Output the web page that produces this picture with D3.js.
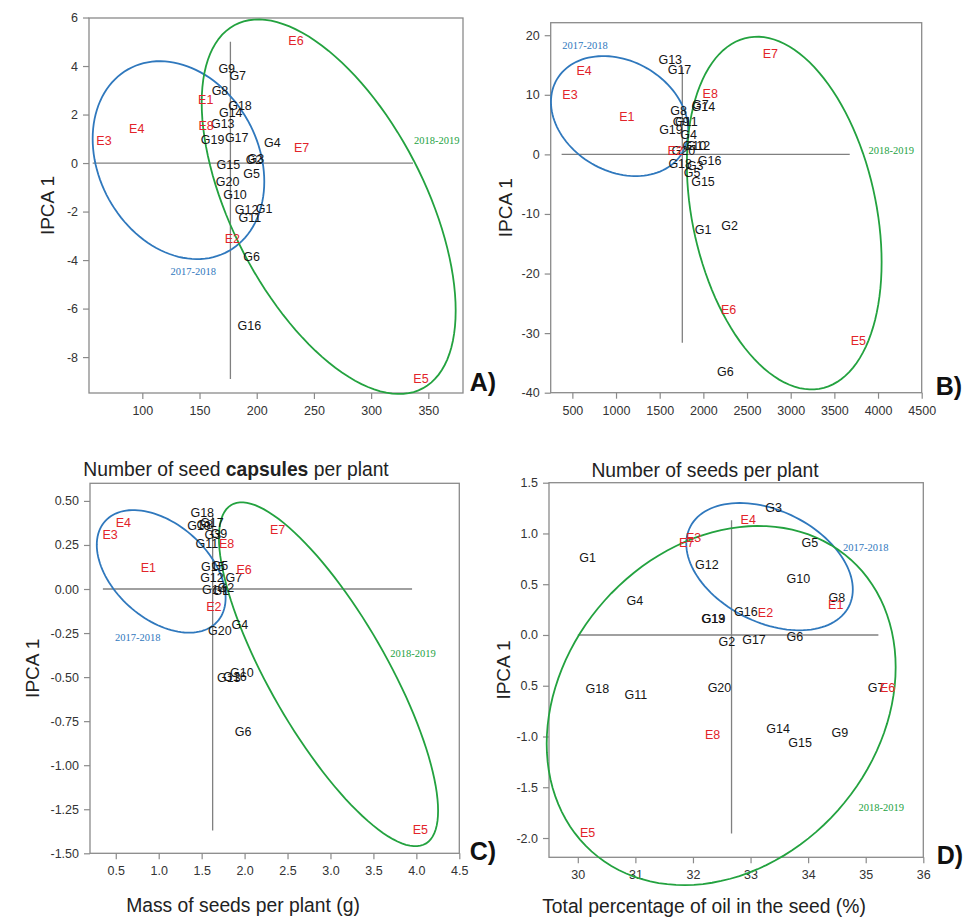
<!DOCTYPE html>
<html lang="en">
<head>
<meta charset="utf-8">
<title>AMMI IPCA1 biplots</title>
<script src="https://cdn.jsdelivr.net/npm/d3@7"></script>
<style>
  body { margin: 0; background: #fff; font-family: "Liberation Sans", Arial, sans-serif; }
  .tick text { font-family: "Liberation Sans", Arial, sans-serif; fill: #333; }
  .season { font-family: "Liberation Serif", "Times New Roman", serif; }
</style>
</head>
<body>
<script>
// ---- Panel A: number of seed capsules per plant ----
var pointsA = [
  ["E6",234.3,5.07],["G9",173.8,3.9],["G7",183.4,3.63],["G8",167.9,2.98],["E1",155.4,2.64],
  ["G18",185.4,2.38],["G14",177.3,2.07],["G13",170.3,1.64],["E8",155.7,1.54],["E4",95.1,1.41],
  ["E3",66.5,0.94],["G19",161.5,0.98],["G17",182.5,1.07],["G4",213.6,0.84],["E7",239.3,0.63],
  ["G2",197.6,0.15],["G3",199.2,0.17],["G15",175.2,-0.05],["G5",195.6,-0.43],["G20",174.6,-0.77],
  ["G10",181,-1.29],["G12",191.2,-1.91],["G1",206.4,-1.87],["G11",194.1,-2.24],["E2",178.7,-3.1],
  ["G6",195.6,-3.86],["G16",193.5,-6.68],["E5",343.6,-8.88]
];
var xTicksA = [100,150,200,250,300,350];
var yTicksA = [-8,-6,-4,-2,0,2,4,6];
var yLabelsA = ["-8","-6","-4","-2","0","2","4","6"];
// ellipse: cx, cy, half-width, half-height, phase (deg) ; blue = 2017-2018, green = 2018-2019
var ellipsesA = [[131.6,0.12,75,4.08,102.5],[262.9,-1.8,111,7.72,123.7]];
var seasonsA = [["2017-2018",144.6,-4.45],["2018-2019",357.3,0.92]];
var refA = [56.6,336.6,177,5.0,-8.9];

// ---- Panel B: number of seeds per plant ----
var pointsB = [
  ["E4",634,14.1],["E3",473,10.1],["E1",1124,6.3],["G13",1621,15.9],["G17",1727,14.3],
  ["E8",2079,10.3],["E7",2768,16.9],["G8",1716,7.43],["G7",1965,8.44],["G14",1999,8.1],
  ["G9",1746,5.6],["G11",1804,5.47],["G19",1629,4.19],["G4",1830,3.4],["G10",1896,1.56],
  ["G12",1942,1.56],["G20",1770,0.72],["E2",1678,0.72],["G16",2071,-0.96],["G18",1735,-1.5],
  ["G3",1907,-1.9],["G5",1870,-3.1],["G15",1996,-4.48],["G1",1996,-12.6],["G2",2301,-12.0],
  ["E6",2289,-26.1],["E5",3774,-31.3],["G6",2252,-36.4]
];
var xTicksB = [500,1000,1500,2000,2500,3000,3500,4000,4500];
var yTicksB = [-40,-30,-20,-10,0,10,20];
var yLabelsB = ["-40","-30","-20","-10","0","10","20"];
var ellipsesB = [[1041,6.43,786,10.07,103.7],[2926,-9.85,1115,29.6,106.2]];
var seasonsB = [["2017-2018",646,18.3],["2018-2019",4152,0.6]];
var refB = [377,3676,1759,14.7,-31.6];

// ---- Panel C: mass of seeds per plant ----
var pointsC = [
  ["G18",1.507,0.434],["E4",0.588,0.379],["E3",0.434,0.307],["G19",1.469,0.358],["G8",1.538,0.364],
  ["G17",1.62,0.375],["G3",1.631,0.307],["G9",1.701,0.313],["G11",1.562,0.256],["E8",1.79,0.26],
  ["E7",2.384,0.335],["E1",0.879,0.121],["G15",1.631,0.125],["G5",1.713,0.131],["G12",1.62,0.068],
  ["G7",1.876,0.068],["G2",1.783,0.011],["G14",1.643,0.0],["G1",1.724,-0.006],["E6",1.995,0.112],
  ["E2",1.643,-0.1],["G20",1.713,-0.233],["G4",1.945,-0.2],["G13",1.817,-0.5],["G16",1.887,-0.494],
  ["G10",1.969,-0.472],["G6",1.984,-0.81],["E5",4.047,-1.365]
];
var xTicksC = [0.5,1.0,1.5,2.0,2.5,3.0,3.5,4.0,4.5];
var yTicksC = [-1.5,-1.25,-1.0,-0.75,-0.5,-0.25,0,0.25,0.5];
var yLabelsC = ["-1.50","-1.25","-1.00","-0.75","-0.50","-0.25","0.00","0.25","0.50"];
var ellipsesC = [[1.029,0.1,0.75,0.348,115.6],[2.977,-0.484,1.276,0.976,142.5]];
var seasonsC = [["2017-2018",0.756,-0.274],["2018-2019",3.96,-0.365]];
var refC = [0.35,3.95,1.628,0.42,-1.37];

// ---- Panel D: total oil percentage ----
var pointsD = [
  ["G3",33.4,1.26],["E4",32.96,1.136],["E3",32.01,0.959],["E7",31.89,0.909],["G5",34.03,0.915],
  ["G1",30.17,0.762],["G12",32.24,0.693],["G10",33.83,0.561],["G4",30.99,0.335],["G8",34.5,0.368],
  ["E1",34.48,0.299],["G13",32.35,0.161],["G19",32.36,0.158],["G16",32.92,0.233],["E2",33.26,0.22],
  ["G6",33.77,-0.013],["G2",32.59,-0.062],["G17",33.06,-0.045],["G18",30.34,-0.528],["G11",31.01,-0.584],
  ["G20",32.46,-0.522],["G7",35.18,-0.515],["E6",35.38,-0.515],["G14",33.48,-0.921],["E8",32.34,-0.98],
  ["G9",34.55,-0.965],["G15",33.86,-1.059],["E5",30.17,-1.949]
];
var xTicksD = [30,31,32,33,34,35,36];
var yTicksD = [-2,-1.5,-1,-0.5,0,0.5,1,1.5];
var yLabelsD = ["-2.0","-1.5","-1.0","0.5","0.0","0.5","1.0","1.5"];
var ellipsesD = [[33.33,0.673,1.446,0.627,111],[32.49,-0.695,3.03,1.769,77.7]];
var seasonsD = [["2017-2018",35.0,0.866],["2018-2019",35.27,-1.699]];
var refD = [30.0,35.22,32.67,1.13,-1.955];

var w = 967, h = 919;
var blue = "#2f78bd", green = "#23a23f", red = "#e2242a";

var panels = [
  {tag:"A)", tagX:483, tagY:382, box:[89,463,18,393], xDom:[53.4,380.3], yDom:[-9.48,5.98],
   pts:pointsA, xt:xTicksA, xl:function(d){return String(d);}, yt:yTicksA, yl:yLabelsA,
   ell:ellipsesA, sea:seasonsA, ref:refA, yTitleX:47, xTitleY:469, xTitleCx:236},
  {tag:"B)", tagX:949, tagY:386, box:[550.7,921.7,22.7,392.7], xDom:[252,4500], yDom:[-40,22.1],
   pts:pointsB, xt:xTicksB, xl:function(d){return String(d);}, yt:yTicksB, yl:yLabelsB,
   ell:ellipsesB, sea:seasonsB, ref:refB, yTitleX:505, xTitleY:470, xTitleCx:705},
  {tag:"C)", tagX:483, tagY:851, box:[90,459.3,483.3,853.3], xDom:[0.2,4.5], yDom:[-1.5,0.6],
   pts:pointsC, xt:xTicksC, xl:function(d){return d.toFixed(1);}, yt:yTicksC, yl:yLabelsC,
   ell:ellipsesC, sea:seasonsC, ref:refC, yTitleX:32, xTitleY:905, xTitleCx:243},
  {tag:"D)", tagX:950, tagY:855, box:[549,923.3,482.7,857.3], xDom:[29.5,36], yDom:[-2.19,1.5],
   pts:pointsD, xt:xTicksD, xl:function(d){return String(d);}, yt:yTicksD, yl:yLabelsD,
   ell:ellipsesD, sea:seasonsD, ref:refD, yTitleX:503, xTitleY:906, xTitleCx:704}
];

var svg = d3.select("body").append("svg").attr("width", w).attr("height", h);

panels.forEach(function(p, k) {
  var x = d3.scaleLinear().domain(p.xDom).range([p.box[0], p.box[1]]);
  var y = d3.scaleLinear().domain(p.yDom).range([p.box[3], p.box[2]]);
  var g = svg.append("g");

  // frame
  g.append("rect")
    .attr("x", p.box[0]).attr("y", p.box[2])
    .attr("width", p.box[1] - p.box[0]).attr("height", p.box[3] - p.box[2])
    .attr("fill", "none").attr("stroke", "#8a8a8a").attr("stroke-width", 1.3);

  // axes
  var ax = g.append("g").attr("transform", "translate(0," + p.box[3] + ")")
    .call(d3.axisBottom(x).tickValues(p.xt).tickFormat(p.xl).tickSize(6).tickPadding(7).tickSizeOuter(0));
  var ay = g.append("g").attr("transform", "translate(" + p.box[0] + ",0)")
    .call(d3.axisLeft(y).tickValues(p.yt).tickFormat(function(d, i){ return p.yl[i]; })
      .tickSize(6).tickPadding(5).tickSizeOuter(0));
  [ax, ay].forEach(function(a) {
    a.select(".domain").remove();
    a.selectAll(".tick line").attr("stroke", "#8a8a8a").attr("stroke-width", 1.2);
    a.selectAll(".tick text").attr("font-size", "12.5px");
  });

  // reference lines
  g.append("line")
    .attr("x1", x(p.ref[0])).attr("x2", x(p.ref[1])).attr("y1", y(0)).attr("y2", y(0))
    .attr("stroke", "#808080").attr("stroke-width", 1.3);
  g.append("line")
    .attr("x1", x(p.ref[2])).attr("x2", x(p.ref[2])).attr("y1", y(p.ref[3])).attr("y2", y(p.ref[4]))
    .attr("stroke", "#808080").attr("stroke-width", 1.3);

  // ellipses
  var line = d3.line();
  p.ell.forEach(function(e, j) {
    var ph = e[4] * Math.PI / 180;
    var pts = d3.range(0, 361, 3).map(function(t) {
      var r = t * Math.PI / 180;
      return [x(e[0] + e[2] * Math.cos(r)), y(e[1] + e[3] * Math.cos(r - ph))];
    });
    g.append("path").attr("d", line(pts) + "Z")
      .attr("fill", "none").attr("stroke", j === 0 ? blue : green).attr("stroke-width", 1.8);
  });

  // season labels
  g.selectAll(".season").data(p.sea).enter().append("text")
    .attr("class", "season")
    .attr("x", function(d){ return x(d[1]); })
    .attr("y", function(d){ return y(d[2]); })
    .attr("dy", "0.35em")
    .attr("text-anchor", "middle")
    .attr("font-size", "10.5px")
    .attr("fill", function(d, i){ return i === 0 ? blue : green; })
    .text(function(d){ return d[0]; });

  // genotype / environment labels
  g.selectAll(".pt").data(p.pts).enter().append("text")
    .attr("class", "pt")
    .attr("x", function(d){ return x(d[1]); })
    .attr("y", function(d){ return y(d[2]); })
    .attr("dy", "0.36em")
    .attr("text-anchor", "middle")
    .attr("font-size", "12.5px")
    .attr("fill", function(d){ return d[0][0] === "E" ? red : "#151515"; })
    .text(function(d){ return d[0]; });

  // axis titles
  g.append("text")
    .attr("transform", "translate(" + p.yTitleX + "," + ((p.box[2] + p.box[3]) / 2) + ") rotate(-90)")
    .attr("text-anchor", "middle").attr("dy", "0.35em")
    .attr("font-size", "19px").attr("fill", "#222")
    .text("IPCA 1");

  var xt = g.append("text")
    .attr("x", p.xTitleCx).attr("y", p.xTitleY).attr("dy", "0.35em")
    .attr("text-anchor", "middle").attr("font-size", "19.3px").attr("fill", "#222");
  if (k === 0) {
    xt.append("tspan").text("Number of seed ");
    xt.append("tspan").attr("font-weight", "bold").text("capsules");
    xt.append("tspan").text(" per plant");
  } else if (k === 1) {
    xt.text("Number of seeds per plant");
  } else if (k === 2) {
    xt.text("Mass of seeds per plant (g)");
  } else {
    xt.text("Total percentage of oil in the seed (%)");
  }

  // panel tag
  g.append("text")
    .attr("x", p.tagX).attr("y", p.tagY).attr("dy", "0.35em")
    .attr("text-anchor", "middle").attr("font-size", "25px").attr("font-weight", "bold")
    .attr("fill", "#111").text(p.tag);
});
</script>
</body>
</html>
